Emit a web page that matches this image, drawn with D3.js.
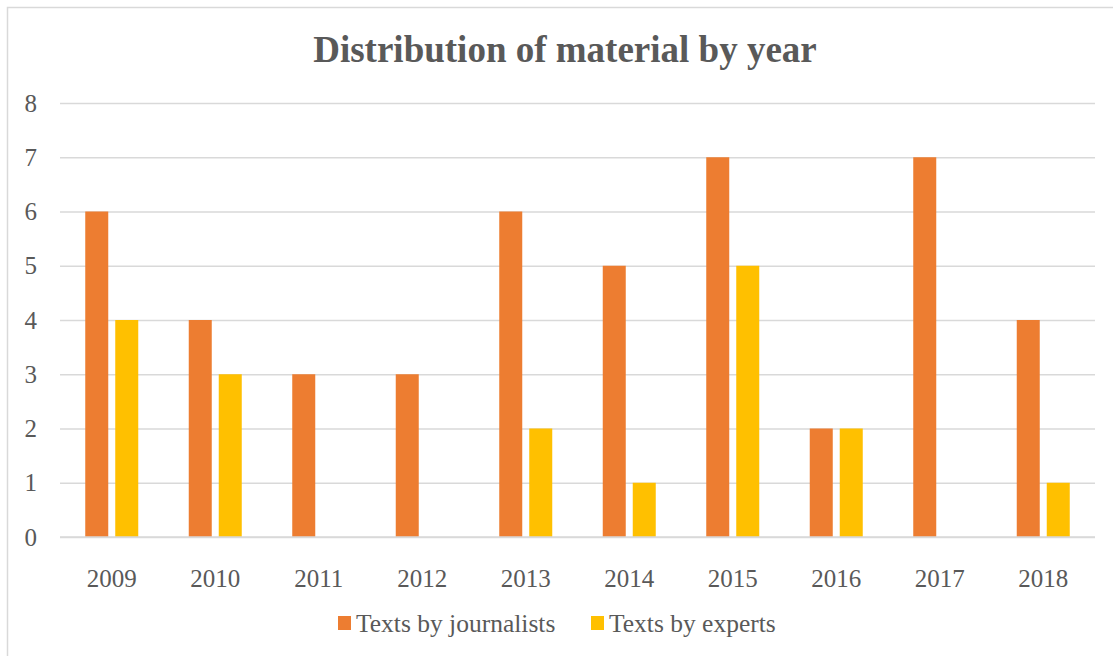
<!DOCTYPE html>
<html>
<head>
<meta charset="utf-8">
<script src="https://cdn.jsdelivr.net/npm/d3@7/dist/d3.min.js"></script>
<style>
  html, body { margin: 0; padding: 0; background: #fff; }
  svg { display: block; }
</style>
</head>
<body>
<svg id="chart" width="1113" height="656"></svg>
<script>
// Number of texts per year, by author type
const years = ["2009", "2010", "2011", "2012", "2013", "2014", "2015", "2016", "2017", "2018"];
const journalists = [6, 4, 3, 3, 6, 5, 7, 2, 7, 4];
const experts = [4, 3, 0, 0, 2, 1, 5, 2, 0, 1];
const seriesNames = ["Texts by journalists", "Texts by experts"];
const seriesColors = ["#ED7D31", "#FFC000"];
const yTicks = [0, 1, 2, 3, 4, 5, 6, 7, 8];

const svg = d3.select("#chart");
const textColor = "#595959";
const gridColor = "#D9D9D9";
const font = "'Liberation Serif', 'Times New Roman', serif";

// Chart-area frame
svg.append("rect")
  .attr("x", 7.5).attr("y", 7.5)
  .attr("width", 1113).attr("height", 656)
  .attr("fill", "#fff")
  .attr("stroke", gridColor).attr("stroke-width", 1.5);

const plot = { left: 60, right: 1095, top: 103, bottom: 537 };

const x0 = d3.scaleBand().domain(years).range([plot.left, plot.right]).padding(0);
const groupWidth = 53;
const x1 = d3.scaleBand().domain(seriesNames)
  .range([(x0.bandwidth() - groupWidth) / 2, (x0.bandwidth() + groupWidth) / 2])
  .paddingInner(0.2333).paddingOuter(0);
const y = d3.scaleLinear().domain([0, 8]).range([plot.bottom, plot.top]);

// Title
svg.append("text")
  .attr("x", 565).attr("y", 62)
  .attr("text-anchor", "middle")
  .attr("font-family", font).attr("font-weight", "bold")
  .attr("font-size", 37).attr("fill", textColor)
  .text("Distribution of material by year");

// Horizontal gridlines + y labels
const yAxis = d3.axisLeft(y).tickValues(yTicks)
  .tickSize(-(plot.right - plot.left)).tickPadding(23).tickFormat(d3.format("d"));
const yG = svg.append("g").attr("transform", `translate(${plot.left},0)`).call(yAxis);
yG.select(".domain").remove();
yG.selectAll(".tick line").attr("stroke", gridColor).attr("stroke-width", 1.5);
yG.selectAll(".tick text")
  .attr("font-family", font).attr("font-size", 25).attr("fill", textColor);

// Bars
const rows = years.map((yr, i) => ({ year: yr, values: [journalists[i], experts[i]] }));
const groups = svg.append("g").selectAll("g").data(rows).join("g")
  .attr("transform", d => `translate(${x0(d.year)},0)`);
groups.selectAll("rect")
  .data(d => d.values.map((v, k) => ({ name: seriesNames[k], value: v, k })))
  .join("rect")
  .filter(d => d.value > 0)
  .attr("x", d => x1(d.name))
  .attr("width", x1.bandwidth())
  .attr("y", d => y(d.value))
  .attr("height", d => y(0) - y(d.value))
  .attr("fill", d => seriesColors[d.k]);

// Baseline drawn over bars
svg.append("line")
  .attr("x1", plot.left).attr("x2", plot.right)
  .attr("y1", y(0)).attr("y2", y(0))
  .attr("stroke", gridColor).attr("stroke-width", 1.5);

// X axis labels
const xAxis = d3.axisBottom(x0).tickSize(0).tickPadding(32);
const xG = svg.append("g").attr("transform", `translate(0,${plot.bottom})`).call(xAxis);
xG.select(".domain").remove();
xG.selectAll(".tick text")
  .attr("font-family", font).attr("font-size", 25).attr("fill", textColor);

// Legend
const legendItems = [
  { name: seriesNames[0], color: seriesColors[0], x: 338 },
  { name: seriesNames[1], color: seriesColors[1], x: 591 }
];
const lg = svg.append("g").selectAll("g").data(legendItems).join("g")
  .attr("transform", d => `translate(${d.x},0)`);
lg.append("rect").attr("x", 0).attr("y", 616).attr("width", 13).attr("height", 14)
  .attr("fill", d => d.color);
lg.append("text").attr("x", 18).attr("y", 632)
  .attr("font-family", font).attr("font-size", 25.5).attr("fill", textColor)
  .text(d => d.name);
</script>
</body>
</html>
